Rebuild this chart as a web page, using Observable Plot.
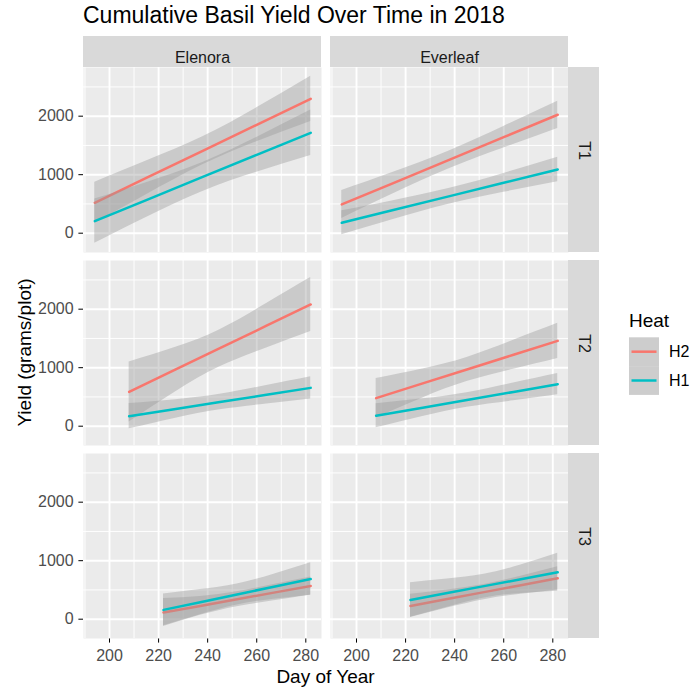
<!DOCTYPE html>
<html><head><meta charset="utf-8">
<script src="https://cdn.jsdelivr.net/npm/d3@7"></script>
<script src="https://cdn.jsdelivr.net/npm/@observablehq/plot@0.6"></script>
<style>
body{margin:0;background:#fff;font-family:"Liberation Sans",Arial,sans-serif;}
#wrap{position:relative;width:693px;height:689px;overflow:hidden;background:#fff;}
#title{position:absolute;left:83px;top:0;height:34px;line-height:30px;font-size:23px;color:#000;white-space:nowrap;}
#chart{position:absolute;left:0;top:34px;}
#overlay{position:absolute;left:0;top:0;pointer-events:none;}
g[aria-label="x-axis tick"], g[aria-label="y-axis tick"]{stroke:#333333;}
g[aria-label="x-axis tick label"], g[aria-label="y-axis tick label"]{fill:#4D4D4D;}
</style></head><body>
<div id="wrap">
  <div id="title">Cumulative Basil Yield Over Time in 2018</div>
  <div id="chart"></div>
  <svg id="overlay" width="693" height="689"></svg>
</div>
<script>
// ---------- data ----------
const varieties = ["Elenora", "Everleaf"];
const treatments = ["T1", "T2", "T3"];
const heatLevels = ["H2", "H1"];
const heatColors = ["#F8766D", "#00BFC4"];
const xMajorTicks = [200, 220, 240, 260, 280];
const xMinorTicks = [190, 210, 230, 250, 270];
const yMajorTicks = [0, 1000, 2000];
const yMinorTicks = [500, 1500, 2500];
const xTitle = "Day of Year";
const yTitle = "Yield (grams/plot)";
const legendTitle = "Heat";

const daysT1 = [194, 215, 238, 260, 282];
const daysT2 = [208, 227, 245, 264, 282];
const daysT3 = [222, 237, 252, 267, 282];

const seriesVariety   = ["Elenora","Elenora","Everleaf","Everleaf","Elenora","Elenora","Everleaf","Everleaf","Elenora","Elenora","Everleaf","Everleaf"];
const seriesTreatment = ["T1","T1","T1","T1","T2","T2","T2","T2","T3","T3","T3","T3"];
const seriesHeat      = ["H2","H1","H2","H1","H2","H1","H2","H1","H2","H1","H2","H1"];

const seriesFit = [
  [520, 944, 1408, 1853, 2297],
  [206, 566, 961, 1339, 1716],
  [491, 857, 1258, 1641, 2024],
  [177, 395, 633, 861, 1089],
  [586, 970, 1333, 1717, 2080],
  [171, 295, 413, 537, 655],
  [479, 731, 969, 1221, 1459],
  [177, 316, 448, 586, 718],
  [113, 227, 341, 454, 568],
  [159, 291, 423, 555, 687],
  [227, 345, 463, 581, 699],
  [329, 447, 565, 683, 801]
];
const seriesLower = [
  [168, 655, 1168, 1564, 1910],
  [-171, 268, 713, 1041, 1328],
  [252, 673, 1105, 1457, 1791],
  [-28, 234, 498, 700, 879],
  [73, 590, 1016, 1337, 1618],
  [-45, 137, 281, 379, 464],
  [143, 483, 762, 973, 1159],
  [-28, 165, 323, 435, 536],
  [-126, 67, 214, 314, 414],
  [-113, 76, 244, 340, 408],
  [28, 190, 334, 426, 500],
  [34, 205, 363, 441, 477]
];
const seriesUpper = [
  [872, 1233, 1648, 2142, 2684],
  [583, 864, 1209, 1637, 2104],
  [730, 1041, 1411, 1825, 2257],
  [382, 556, 768, 1022, 1299],
  [1099, 1350, 1650, 2097, 2542],
  [387, 453, 545, 695, 846],
  [815, 979, 1176, 1469, 1759],
  [382, 467, 573, 737, 900],
  [352, 387, 468, 594, 722],
  [431, 506, 602, 770, 966],
  [426, 500, 592, 736, 898],
  [624, 689, 767, 925, 1125]
];

// ---------- build table ----------
const daysByTreatment = {T1: daysT1, T2: daysT2, T3: daysT3};
const rows = seriesHeat.flatMap((heat, s) =>
  daysByTreatment[seriesTreatment[s]].map((day, k) => ({
    variety: seriesVariety[s], treatment: seriesTreatment[s], heat, series: s, day,
    fit: seriesFit[s][k], lower: seriesLower[s][k], upper: seriesUpper[s][k]
  })));
const topStrips = varieties.map(v => ({variety: v, treatment: treatments[0]}));
const rightStrips = treatments.map(t => ({variety: varieties[varieties.length - 1], treatment: t}));

// ---------- layout ----------
const W = 693, H = 655;
const mT = 33, mB = 51, mL = 83, mR = 125;
const colGap = 9, rowGap = 8, strip = 31;
const panelW = (W - mL - mR - colGap) / 2;
const panelH = (H - mT - mB - 2 * rowGap) / 3;
const font = '"Liberation Sans", Arial, sans-serif';

const seriesMarks = heatLevels.flatMap(h => {
  const sub = rows.filter(d => d.heat === h);
  return [
    Plot.areaY(sub, {x: "day", y1: "lower", y2: "upper", z: "series", fx: "variety", fy: "treatment",
      fill: "#999999", fillOpacity: 0.4, curve: "natural"}),
    Plot.lineY(sub, {x: "day", y: "fit", z: "series", fx: "variety", fy: "treatment",
      stroke: "heat", strokeWidth: 2.5})
  ];
});

const chart = Plot.plot({
  width: W, height: H,
  marginTop: mT, marginBottom: mB, marginLeft: mL, marginRight: mR,
  style: {fontFamily: font, fontSize: "16px", background: "transparent", overflow: "visible"},
  fx: {domain: varieties, axis: null, paddingInner: colGap / (panelW + colGap), paddingOuter: 0},
  fy: {domain: treatments, axis: null, paddingInner: rowGap / (panelH + rowGap), paddingOuter: 0},
  x: {domain: [189.4, 286.4], ticks: xMajorTicks, tickSize: 4.6, tickPadding: 7, label: null, tickFormat: d => String(d)},
  y: {domain: [-330, 2832], ticks: yMajorTicks, tickSize: 4.6, tickPadding: 5.3, label: null, tickFormat: d => String(d)},
  color: {domain: heatLevels, range: heatColors},
  marks: [
    Plot.frame({fill: "#EBEBEB", stroke: "none"}),
    Plot.ruleX(xMinorTicks, {stroke: "white", strokeWidth: 0.95}),
    Plot.ruleY(yMinorTicks, {stroke: "white", strokeWidth: 0.95}),
    Plot.ruleX(xMajorTicks, {stroke: "white", strokeWidth: 1.9}),
    Plot.ruleY(yMajorTicks, {stroke: "white", strokeWidth: 1.9}),
    ...seriesMarks,
    Plot.rect(topStrips, {fx: "variety", fy: "treatment", fill: "#D9D9D9", insetTop: -strip, insetBottom: panelH}),
    Plot.text(topStrips, {fx: "variety", fy: "treatment", text: "variety", frameAnchor: "top", dy: -strip / 2,
      fontSize: 16, fill: "#1A1A1A"}),
    Plot.rect(rightStrips, {fx: "variety", fy: "treatment", fill: "#D9D9D9", insetLeft: panelW, insetRight: -strip}),
    Plot.text(rightStrips, {fx: "variety", fy: "treatment", text: "treatment", frameAnchor: "right", dx: strip / 2,
      rotate: 90, fontSize: 16, fill: "#1A1A1A"})
  ]
});
document.getElementById("chart").appendChild(chart);

// ---------- axis titles & legend ----------
const ov = d3.select("#overlay").attr("font-family", font);
ov.append("text").attr("x", 325.5).attr("y", 683).attr("text-anchor", "middle")
  .attr("font-size", 19).attr("fill", "#000").text(xTitle);
ov.append("text").attr("transform", "translate(30.5,352.5) rotate(-90)").attr("text-anchor", "middle")
  .attr("font-size", 19).attr("fill", "#000").text(yTitle);

const lg = ov.append("g");
lg.append("text").attr("x", 629).attr("y", 326.7).attr("font-size", 19).attr("fill", "#000").text(legendTitle);
const keyH = 28.8, keyTop = 337.3;
heatLevels.forEach((h, i) => {
  const y0 = keyTop + i * keyH;
  lg.append("rect").attr("x", 629).attr("y", y0).attr("width", 30).attr("height", keyH).attr("fill", "#CDCDCD");
  lg.append("line").attr("x1", 631.5).attr("x2", 656.5).attr("y1", y0 + keyH / 2).attr("y2", y0 + keyH / 2)
    .attr("stroke", heatColors[i]).attr("stroke-width", 2.5);
  lg.append("text").attr("x", 669).attr("y", y0 + keyH / 2).attr("dy", "0.36em").attr("font-size", 16)
    .attr("fill", "#000").text(h);
});
</script>
</body></html>
